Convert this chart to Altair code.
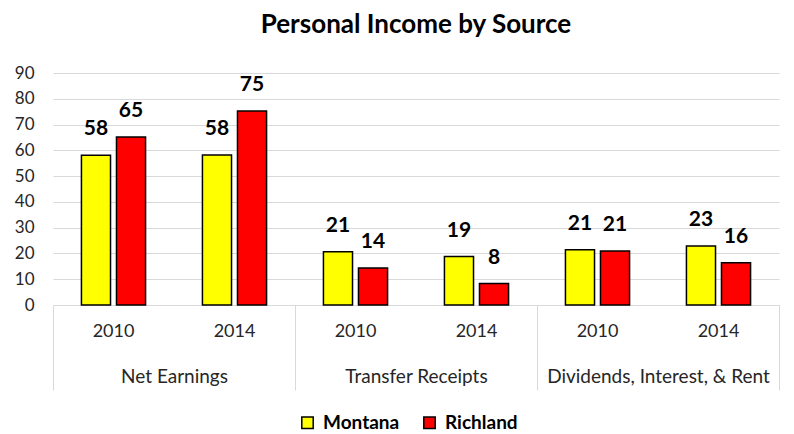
import altair as alt
import pandas as pd

groups = ["Net Earnings", "Transfer Receipts", "Dividends, Interest, & Rent"]
years = ["2010", "2014"]
series = ["Montana", "Richland"]
montana = [58.1, 58.2, 20.7, 18.8, 21.4, 22.9]
richland = [65.2, 75.3, 14.4, 8.3, 20.9, 16.4]
colors = ["#ffff00", "#ff0000"]
y_ticks = [0, 10, 20, 30, 40, 50, 60, 70, 80, 90]

rows = []
gy_order = []
i = 0
for g in groups:
    for yr in years:
        gy = g + "|" + yr
        gy_order.append(gy)
        rows.append({"group": g, "year": yr, "gy": gy, "series": "Montana", "value": montana[i]})
        rows.append({"group": g, "year": yr, "gy": gy, "series": "Richland", "value": richland[i]})
        i += 1
df = pd.DataFrame(rows)

W = 726
H = 232
FONT = "Lato"
GRID = "#d9d9d9"
TXT = "#262626"

x_scale = alt.Scale(paddingInner=0.47, paddingOuter=0.235)
x_enc = alt.X("gy:N", sort=gy_order, scale=x_scale,
              axis=alt.Axis(title=None, labelAngle=0, ticks=False, domainColor=GRID,
                            domainWidth=1, labelFontSize=18, labelPadding=17,
                            labelColor=TXT, labelFont=FONT,
                            labelExpr="split(datum.label, '|')[1]"))
xo_enc = alt.XOffset("series:N", sort=series,
                     scale=alt.Scale(paddingInner=0.17, paddingOuter=0))
y_enc = alt.Y("value:Q", scale=alt.Scale(domain=[0, 90], nice=False),
              axis=alt.Axis(values=y_ticks, title=None, grid=True, gridColor=GRID,
                            domain=False, ticks=False, labelFontSize=17, labelPadding=19,
                            labelColor=TXT, labelFont=FONT))

bars = alt.Chart(df).mark_bar(stroke="black", strokeWidth=1.5).encode(
    x=x_enc, xOffset=xo_enc, y=y_enc,
    color=alt.Color("series:N", sort=series,
                    scale=alt.Scale(domain=series, range=colors),
                    legend=alt.Legend(title=None, orient="none", direction="horizontal",
                                      legendX=245, legendY=340, padding=0,
                                      symbolType="square", symbolSize=130,
                                      symbolStrokeColor="black", symbolStrokeWidth=1.5,
                                      labelFontSize=19, labelFontWeight="bold",
                                      labelFont=FONT, labelColor="black",
                                      labelOffset=6, columnPadding=20)),
)

labels = alt.Chart(df).mark_text(fontSize=21, fontWeight="bold", font=FONT, color="black",
                                 baseline="middle", dy=-26).encode(
    x=x_enc, xOffset=xo_enc, y=y_enc,
    text=alt.Text("value:Q", format=".0f"),
)

main = alt.layer(bars, labels)

group_axis = alt.Chart(df).mark_text(opacity=0).encode(
    x=alt.X("group:N", sort=groups,
            scale=alt.Scale(paddingInner=0, paddingOuter=0),
            axis=alt.Axis(orient="bottom", title=None, labelAngle=0, domain=False,
                          ticks=True, tickBand="extent", tickSize=85, tickColor=GRID,
                          tickWidth=1, labelFontSize=19, labelFont=FONT, labelColor=TXT,
                          labelBaseline="middle", labelPadding=-14, labelLimit=0)),
    text=alt.value(""),
)

chart = alt.layer(main, group_axis).resolve_scale(x="independent").properties(
    width=W, height=H,
    title=alt.Title("Personal Income by Source", fontSize=26, font=FONT, fontWeight="bold",
                    color="black", anchor="middle", frame="group", offset=26),
    padding={"left": 6, "top": 4, "right": 5, "bottom": 0},
).configure_view(stroke=None)

chart.save("out.html", embed_options={"renderer": "svg", "actions": False})
